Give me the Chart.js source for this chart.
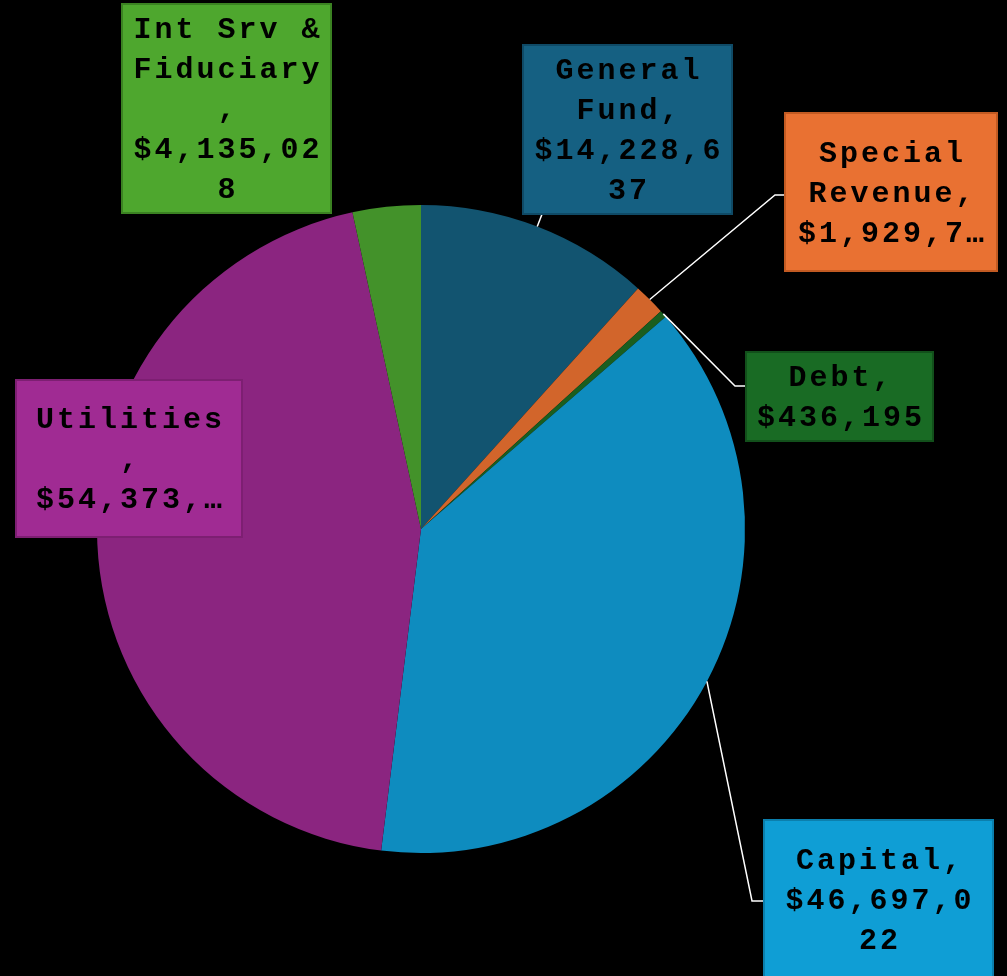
<!DOCTYPE html>
<html>
<head>
<meta charset="utf-8">
<style>
  html, body { margin: 0; padding: 0; background: #000; }
  canvas { display: block; }
</style>
<script src="https://cdn.jsdelivr.net/npm/chart.js@4/dist/chart.umd.min.js"></script>
</head>
<body>
<canvas id="pie" width="1007" height="976"></canvas>
<script>
// Fund categories and amounts (clockwise from 12 o'clock)
const categories = ['General Fund', 'Special Revenue', 'Debt', 'Capital', 'Utilities', 'Int Srv & Fiduciary'];
const amounts = [14228637, 1929700, 436195, 46697022, 54373000, 4135028];

// Slice fills and label box fills/borders
const sliceColors = ['#125470', '#d2652b', '#1a5e1f', '#0e8cbf', '#8b2580', '#43922a'];
const boxColors = ['#156082', '#e97132', '#196b24', '#0f9ed5', '#a02b93', '#4ea72e'];
const boxBorders = ['#0f4a66', '#c25a22', '#12501b', '#0b7fad', '#7d1f72', '#3b8222'];

// Label box placement: rect, wrap limits, optional leader elbow
const labelBoxes = [
  { x: 523, y: 45,  w: 209, h: 169, maxChars: 9, maxLines: 4, leader: 'bottom' },
  { x: 785, y: 113, w: 212, h: 158, maxChars: 9, maxLines: 3, elbow: [775, 195] },
  { x: 746, y: 352, w: 187, h: 89,  maxChars: 8, maxLines: 2, elbow: [735, 386] },
  { x: 764, y: 820, w: 229, h: 158, maxChars: 9, maxLines: 3, elbow: [752, 901] },
  { x: 16,  y: 380, w: 226, h: 157, maxChars: 9, maxLines: 3 },
  { x: 122, y: 4,   w: 209, h: 209, maxChars: 9, maxLines: 5 }
];

function money(v) { return '$' + v.toLocaleString('en-US'); }

// Word wrap with hard breaks for long words, ellipsis when over the line limit
function wrapLabel(text, maxChars, maxLines) {
  const words = text.split(' ');
  const lines = [];
  let cur = '';
  for (let w of words) {
    const joined = cur ? cur + ' ' + w : w;
    if (joined.length <= maxChars) { cur = joined; continue; }
    if (cur) { lines.push(cur); cur = ''; }
    while (w.length > maxChars) { lines.push(w.slice(0, maxChars)); w = w.slice(maxChars); }
    cur = w;
  }
  if (cur) lines.push(cur);
  if (lines.length > maxLines) {
    const kept = lines.slice(0, maxLines);
    kept[maxLines - 1] = kept[maxLines - 1].slice(0, maxChars - 1) + '\u2026';
    return kept;
  }
  return lines;
}

const calloutPlugin = {
  id: 'callouts',
  afterDatasetsDraw(chart) {
    const ctx = chart.ctx;
    const meta = chart.getDatasetMeta(0);
    ctx.save();
    // leader lines
    ctx.strokeStyle = '#ffffff';
    ctx.lineWidth = 1.5;
    meta.data.forEach((arc, i) => {
      const b = labelBoxes[i];
      if (!b.elbow && !b.leader) return;
      const p = arc.getProps(['x', 'y', 'startAngle', 'endAngle', 'outerRadius'], true);
      const mid = (p.startAngle + p.endAngle) / 2;
      const sx = p.x + Math.cos(mid) * p.outerRadius;
      const sy = p.y + Math.sin(mid) * p.outerRadius;
      ctx.beginPath();
      ctx.moveTo(sx, sy);
      if (b.elbow) {
        ctx.lineTo(b.elbow[0], b.elbow[1]);
        ctx.lineTo(b.x, b.elbow[1]);
      } else {
        const dx = Math.cos(mid), dy = Math.sin(mid);
        const t = (sy - (b.y + b.h)) / -dy;
        ctx.lineTo(sx + dx * t, b.y + b.h);
      }
      ctx.stroke();
    });
    // boxes and text
    ctx.font = 'bold 30px "Liberation Mono", "Courier New", monospace';
    ctx.letterSpacing = '3px';
    ctx.textAlign = 'left';
    ctx.textBaseline = 'middle';
    categories.forEach((cat, i) => {
      const b = labelBoxes[i];
      ctx.fillStyle = boxColors[i];
      ctx.fillRect(b.x, b.y, b.w, b.h);
      ctx.strokeStyle = boxBorders[i];
      ctx.lineWidth = 2;
      ctx.strokeRect(b.x, b.y, b.w, b.h);
      const lines = wrapLabel(cat + ', ' + money(amounts[i]), b.maxChars, b.maxLines);
      const cx = b.x + b.w / 2;
      const cy = b.y + b.h / 2 + 2;
      ctx.fillStyle = '#000000';
      lines.forEach((ln, k) => {
        const w = ctx.measureText(ln).width - 3;
        ctx.fillText(ln, cx - w / 2, cy + (k - (lines.length - 1) / 2) * 40);
      });
    });
    ctx.restore();
  }
};

new Chart(document.getElementById('pie'), {
  type: 'pie',
  data: {
    labels: categories,
    datasets: [{
      data: amounts,
      backgroundColor: sliceColors,
      borderWidth: 0
    }]
  },
  options: {
    responsive: false,
    animation: false,
    layout: { padding: { left: 97, top: 205, right: 262, bottom: 123 } },
    plugins: { legend: { display: false }, tooltip: { enabled: false } }
  },
  plugins: [calloutPlugin]
});
</script>
</body>
</html>
